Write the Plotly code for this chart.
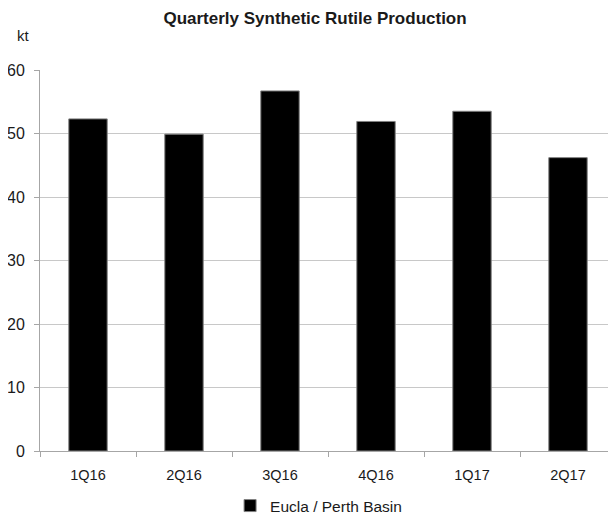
import plotly.graph_objects as go

quarters = ["1Q16", "2Q16", "3Q16", "4Q16", "1Q17", "2Q17"]
production_kt = [52.3, 49.9, 56.7, 51.9, 53.5, 46.2]
series_name = "Eucla / Perth Basin"
y_ticks = [0, 10, 20, 30, 40, 50, 60]

FONT = "Liberation Sans Narrow, Arial Narrow, Liberation Sans, Arial, sans-serif"
TXT = "#1a1a1a"

fig = go.Figure()
fig.add_trace(go.Bar(
    x=quarters, y=production_kt, name=series_name,
    marker=dict(color="#000000", line=dict(color="#808080", width=1)),
    showlegend=True,
))

# page body has an 8px margin, so the figure is sized to 608x515
fig.update_layout(
    width=608, height=515,
    margin=dict(l=32, r=0, t=62, b=71),
    paper_bgcolor="white", plot_bgcolor="white",
    font=dict(family=FONT, size=15, color=TXT),
    bargap=0.6,
    title=dict(text="<b>Quarterly Synthetic Rutile Production</b>",
               x=0.505, xanchor="center", y=0.981, yanchor="middle",
               font=dict(family=FONT, size=17, color=TXT)),
    xaxis=dict(type="category", showline=True, linecolor="#a6a6a6", linewidth=1,
               ticks="outside", tickson="boundaries", ticklen=5, tickcolor="#a6a6a6",
               showgrid=False, tickfont=dict(size=14.5, color=TXT),
               ticklabelstandoff=11),
    yaxis=dict(range=[0, 60], tickvals=y_ticks, showline=True, linecolor="#a6a6a6",
               linewidth=1, ticks="outside", ticklen=5, tickcolor="#a6a6a6",
               showgrid=True, gridcolor="#c8c8c8", gridwidth=1, zeroline=False,
               tickfont=dict(size=16, color=TXT), ticklabelstandoff=6),
    legend=dict(orientation="h", x=0.33, xanchor="left", y=-0.145, yanchor="middle",
                font=dict(size=15.5, color=TXT), itemwidth=30),
    annotations=[dict(text="kt", xref="paper", yref="paper", x=-0.029, y=1.09,
                      xanchor="center", yanchor="middle", showarrow=False,
                      font=dict(family=FONT, size=15, color=TXT))],
)

fig.write_html("out.html")
